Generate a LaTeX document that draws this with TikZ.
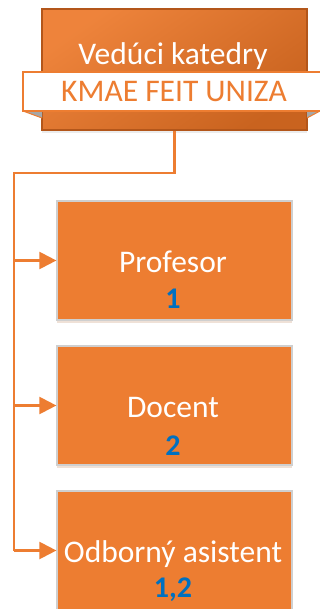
\documentclass[tikz,border=0pt]{standalone}
\usepackage{fontspec}
\setmainfont{Carlito}
\usetikzlibrary{arrows.meta,shadows}
\definecolor{orng}{HTML}{ED7D31}
\definecolor{orngdark}{HTML}{C9631F}
\definecolor{orngedge}{HTML}{B3561A}
\definecolor{blu}{HTML}{0070C0}
\definecolor{boxedge}{HTML}{CFCFCF}
\definecolor{foldgray}{HTML}{A6A6A6}
\tikzset{
  rolebox/.style={draw=boxedge, line width=1.2pt, fill=orng, minimum width=235pt, minimum height=119pt, inner sep=0pt,
    drop shadow={opacity=0.18, shadow xshift=0pt, shadow yshift=-3pt, fill=orng!70!black}},
  roletext/.style={anchor=base, text=white, font=\fontsize{31.5}{36}\selectfont, inner sep=0pt},
  rolenum/.style={anchor=base, text=blu, font=\fontsize{30}{36}\selectfont\bfseries, inner sep=0pt},
  conn/.style={draw=orng, line width=2.2pt},
  arr/.style={conn, -{Triangle[length=17pt,width=17pt]}},
}
\begin{document}
\begin{tikzpicture}[x=1pt,y=-1pt]
\useasboundingbox (0,0) rectangle (320,609);
% head box
\node[draw=orngedge, line width=1.2pt, top color=orng!95!white, bottom color=orngdark, shading angle=35,
  minimum width=265pt, minimum height=121pt, inner sep=0pt,
  drop shadow={opacity=0.15, shadow xshift=0pt, shadow yshift=-3pt}] (head) at (174.5,69.5) {};
% ribbon folds
\fill[foldgray] (23,111) -- (42,111) -- (42,118) -- cycle;
\draw[orng, line width=1pt] (23,111) -- (42,118);
\fill[foldgray] (307,111) -- (320,111) -- (307,118) -- cycle;
\draw[orng, line width=1pt] (320,111) -- (307,118);
% banner
\node[draw=orng, line width=1.5pt, fill=white, minimum width=300pt, minimum height=39pt, inner sep=0pt] (banner) at (173,91.5) {};
\node[anchor=base, text=white, font=\fontsize{31.5}{36}\selectfont, inner sep=0pt] (title) at (173,65) {Vedúci katedry};
\node[anchor=base, text=orng, font=\fontsize{31.5}{36}\selectfont, inner sep=0pt] (sub) at (174,102) {KMAE FEIT UNIZA};
% role boxes
\node[rolebox] (prof) at (174.5,260.5) {};
\node[rolebox] (doc) at (174.5,405.5) {};
\node[rolebox] (odb) at (174.5,550.5) {};
\node[roletext] (proft) at (173,272) {Profesor};
\node[rolenum] (profn) at (173,308) {1};
\node[roletext] (doct) at (173,417) {Docent};
\node[rolenum] (docn) at (173,455) {2};
\node[roletext] (odbt) at (173,562) {Odborný asistent};
\node[rolenum] (odbn) at (173,597) {1,2};
% connectors
\coordinate (bend) at (14,173);
\draw[conn] (head.south) |- (bend) -- (bend |- odb.west);
\draw[arr] (bend |- prof.west) -- (prof.west);
\draw[arr] (bend |- doc.west) -- (doc.west);
\draw[arr] (bend |- odb.west) -- (odb.west);
\end{tikzpicture}
\end{document}
